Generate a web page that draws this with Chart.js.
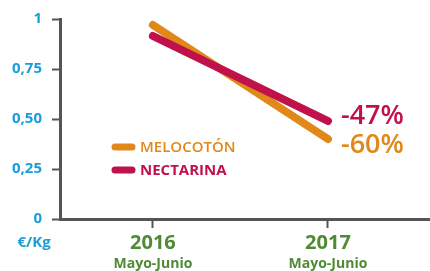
<!DOCTYPE html>
<html>
<head>
<meta charset="utf-8">
<script src="https://cdn.jsdelivr.net/npm/chart.js@4"></script>
<style>
  body { margin: 0; background: #fff; }
</style>
</head>
<body>
<canvas id="chart" width="430" height="271"></canvas>
<script>
// Datos
const anios = [2016, 2017];
const periodo = 'Mayo-Junio';
const series = ['MELOCOTÓN', 'NECTARINA'];
const melocoton = [0.97, 0.40];
const nectarina = [0.915, 0.49];
const variaciones = ['-60%', '-47%'];
const yTicks = [0, 0.25, 0.5, 0.75, 1];
const unidad = '€/Kg';

const NARANJA = '#e0881a';
const GRANATE = '#c0124a';
const AZUL = '#1b9dd9';
const VERDE = '#4f8a35';
const GRIS = '#555555';
const FUENTE = '"Open Sans", "DejaVu Sans", sans-serif';

const ctx = document.getElementById("chart").getContext("2d");

const toPoints = vals => vals.map((v, i) => ({ x: anios[i], y: v }));

// Leyenda, etiquetas de variacion y eje x dibujados a mano
const extras = {
  id: 'extras',
  afterDraw(chart) {
    const c = chart.ctx;
    const xs = chart.scales.x;
    const ys = chart.scales.y;
    c.save();

    // leyenda
    const colores = [NARANJA, GRANATE];
    const pesos = ['600', '700'];
    [147, 170].forEach((y, i) => {
      c.strokeStyle = colores[i];
      c.lineWidth = 7;
      c.lineCap = 'round';
      c.beginPath();
      c.moveTo(115, y);
      c.lineTo(132, y);
      c.stroke();
      c.fillStyle = colores[i];
      c.font = pesos[i] + ' 15px ' + FUENTE;
      c.textAlign = 'left';
      c.textBaseline = 'middle';
      c.fillText(series[i], 140, y + 1);
    });

    // variaciones al final de cada linea
    const xFin = xs.getPixelForValue(anios[1]) + 13;
    c.font = '600 27px ' + FUENTE;
    c.textAlign = 'left';
    c.textBaseline = 'middle';
    c.fillStyle = NARANJA;
    c.fillText(variaciones[0], xFin, ys.getPixelForValue(melocoton[1]) + 6);
    c.fillStyle = GRANATE;
    c.fillText(variaciones[1], xFin, ys.getPixelForValue(nectarina[1]) - 5);

    // etiquetas eje x
    c.textAlign = 'center';
    anios.forEach(a => {
      const x = xs.getPixelForValue(a);
      c.fillStyle = VERDE;
      c.font = '700 20px ' + FUENTE;
      c.fillText(String(a), x, 243);
      c.font = '700 14px ' + FUENTE;
      c.fillText(periodo, x, 264);
    });

    // unidad
    c.fillStyle = AZUL;
    c.font = '700 15px ' + FUENTE;
    c.fillText(unidad, 34, 243);
    c.restore();
  }
};

const data = {
  datasets: [
    {
      label: series[0],
      data: toPoints(melocoton),
      borderColor: NARANJA,
      order: 2
    },
    {
      label: series[1],
      data: toPoints(nectarina),
      borderColor: GRANATE,
      order: 1
    }
  ]
};

const config = {
  type: 'line',
  data: data,
  options: {
    responsive: false,
    animation: false,
    layout: { padding: { top: 18, right: 0, bottom: 0, left: 0 } },
    elements: {
      line: { borderWidth: 8, borderCapStyle: 'round', tension: 0 },
      point: { radius: 0 }
    },
    plugins: {
      legend: { display: false },
      tooltip: { enabled: false }
    },
    scales: {
      x: {
        type: 'linear',
        min: 2015.469,
        max: 2017.583,
        afterBuildTicks: s => { s.ticks = anios.map(v => ({ value: v })); },
        afterFit: s => { s.height = 52; },
        ticks: { callback: () => '' },
        grid: {
          drawOnChartArea: false,
          drawTicks: true,
          tickLength: 9,
          tickColor: GRIS,
          tickWidth: 2
        },
        border: { color: GRIS, width: 3 }
      },
      y: {
        min: 0,
        max: 1,
        afterBuildTicks: s => { s.ticks = yTicks.map(v => ({ value: v })); },
        afterFit: s => { s.width = 60; },
        ticks: {
          color: AZUL,
          padding: 10,
          font: { family: FUENTE, size: 15, weight: '700' },
          callback: v => (v === 0 || v === 1) ? String(v) : v.toFixed(2).replace('.', ',')
        },
        grid: {
          drawOnChartArea: false,
          drawTicks: true,
          tickLength: 8,
          tickColor: GRIS,
          tickWidth: 2
        },
        border: { color: GRIS, width: 3 }
      }
    }
  },
  plugins: [extras]
};

const chart = new Chart(ctx, config);
</script>
</body>
</html>
